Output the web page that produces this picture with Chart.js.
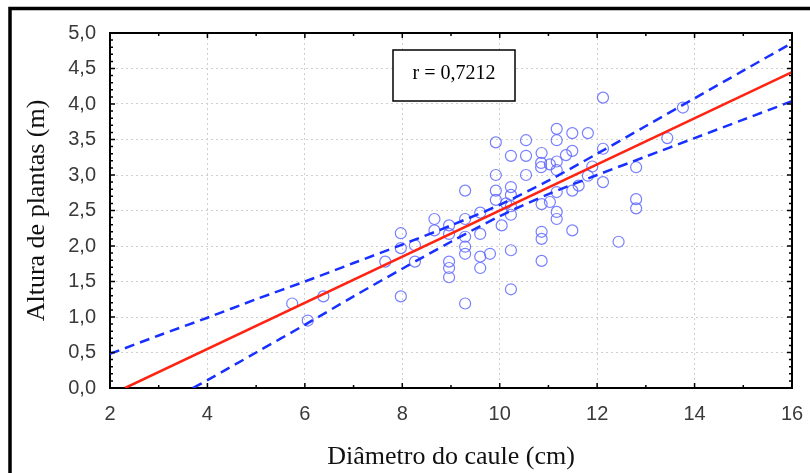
<!DOCTYPE html>
<html>
<head>
<meta charset="utf-8">
<script src="https://cdn.jsdelivr.net/npm/chart.js@4.4.0/dist/chart.umd.min.js"></script>
<style>
  html, body { margin:0; padding:0; background:#fff; }
  #wrap { width:810px; height:473px; position:relative; }
</style>
</head>
<body>
<div id="wrap"><canvas id="chart" width="810" height="473"></canvas></div>
<script>
// data
const diametro = [5.74, 6.06, 6.38, 7.65, 7.97, 7.97, 7.97, 8.26, 8.26, 8.66,
  8.66, 8.96, 8.96, 8.96, 8.96, 8.96, 9.29, 9.29, 9.29, 9.29,
  9.29, 9.29, 9.60, 9.60, 9.60, 9.60, 9.80, 9.92, 9.92, 9.92,
  9.92, 10.04, 10.13, 10.23, 10.23, 10.23, 10.23, 10.23, 10.23, 10.23,
  10.54, 10.54, 10.54, 10.86, 10.85, 10.85, 10.86, 10.86, 10.86, 10.86,
  11.03, 11.03, 11.17, 11.17, 11.17, 11.17, 11.17, 11.17, 11.17, 11.36,
  11.49, 11.49, 11.49, 11.49, 11.62, 11.81, 11.81, 11.90, 12.12, 12.12,
  12.12, 12.44, 12.80, 12.80, 12.80, 13.44, 13.76];
const altura = [1.19, 0.95, 1.29, 1.78, 2.18, 1.97, 1.29, 2.01, 1.78, 2.38,
  2.22, 2.29, 2.17, 1.78, 1.69, 1.56, 2.78, 2.38, 2.13, 1.99,
  1.89, 1.19, 2.47, 2.17, 1.85, 1.69, 1.89, 3.46, 3.00, 2.78,
  2.65, 2.29, 2.60, 3.27, 2.83, 2.72, 2.56, 2.44, 1.94, 1.39,
  3.49, 3.27, 3.00, 3.31, 3.17, 3.11, 2.59, 2.20, 2.10, 1.79,
  3.15, 2.62, 3.65, 3.49, 3.19, 3.07, 2.76, 2.48, 2.38, 3.28,
  3.59, 3.34, 2.78, 2.22, 2.85, 3.59, 2.99, 3.12, 4.09, 3.37,
  2.90, 2.06, 3.11, 2.66, 2.53, 3.52, 3.95];

// fitted line (red)
const fitX = [2.31, 16];
const fitY = [0, 4.45];

// 95% band (blue dashed)
const bandX  = [2, 3, 4, 5, 6, 7, 8, 9, 10, 11, 12, 13, 14, 15, 16];
const upperY = [0.48, 0.74, 0.99, 1.25, 1.50, 1.76, 2.02, 2.29, 2.58, 2.92, 3.30, 3.69, 4.08, 4.47, 4.86];
const lowerX = [3.7, 4, 5, 6, 7, 8, 9, 10, 11, 12, 13, 14, 15, 16];
const lowerY = [0.0, 0.11, 0.50, 0.89, 1.29, 1.68, 2.06, 2.42, 2.73, 3.00, 3.26, 3.52, 3.78, 4.04];

const xTicks = [2, 4, 6, 8, 10, 12, 14, 16];
const yMin = 0, yMax = 5;

const toPts = (xs, ys) => xs.map((x, i) => ({ x: x, y: ys[i] }));

// frame, box, top/right axis lines, small ticks, annotation
const extras = {
  id: 'extras',
  afterDraw(chart) {
    const { ctx, chartArea: a, scales: { x, y } } = chart;
    ctx.save();
    ctx.strokeStyle = '#000';
    // outer frame (left + top)
    ctx.lineWidth = 3.5;
    ctx.beginPath();
    ctx.moveTo(10, 473); ctx.lineTo(10, 8.5); ctx.lineTo(810, 8.5);
    ctx.stroke();
    // top and right edge of the plot box
    ctx.lineWidth = 2;
    ctx.beginPath();
    ctx.moveTo(a.left, a.top); ctx.lineTo(a.right, a.top); ctx.lineTo(a.right, a.bottom);
    ctx.stroke();
    // inward ticks
    ctx.lineWidth = 1.5;
    ctx.beginPath();
    for (let v = 2; v <= 16; v++) {
      const px = x.getPixelForValue(v);
      const len = v % 2 === 0 ? 5 : 3;
      ctx.moveTo(px, a.bottom); ctx.lineTo(px, a.bottom - len);
      ctx.moveTo(px, a.top); ctx.lineTo(px, a.top + len);
    }
    for (let i = 0; i <= 50; i++) {
      const py = y.getPixelForValue(i / 10);
      const len = i % 5 === 0 ? 5 : 3;
      ctx.moveTo(a.left, py); ctx.lineTo(a.left + len, py);
      ctx.moveTo(a.right, py); ctx.lineTo(a.right - len, py);
    }
    ctx.stroke();
    // r box
    ctx.fillStyle = '#fff';
    ctx.fillRect(393, 50, 122, 51);
    ctx.lineWidth = 1.5;
    ctx.strokeRect(393, 50, 122, 51);
    ctx.fillStyle = '#000';
    ctx.font = '20px "Liberation Serif", "Times New Roman", serif';
    ctx.textAlign = 'center';
    ctx.textBaseline = 'middle';
    ctx.fillText('r = 0,7212', 454, 74);
    ctx.restore();
  }
};

new Chart(document.getElementById('chart'), {
  data: {
    datasets: [
      { type: 'line', label: 'ajuste', data: toPts(fitX, fitY), borderColor: '#ff2412',
        borderWidth: 2.5, pointRadius: 0, fill: false, order: 0 },
      { type: 'line', label: 'sup', data: toPts(bandX, upperY), borderColor: '#1830ff',
        borderWidth: 2.5, borderDash: [10, 6], pointRadius: 0, fill: false, tension: 0.3, order: 0 },
      { type: 'line', label: 'inf', data: toPts(lowerX, lowerY), borderColor: '#1830ff',
        borderWidth: 2.5, borderDash: [10, 6], pointRadius: 0, fill: false, tension: 0.3, order: 0 },
      { type: 'scatter', label: 'dados', data: toPts(diametro, altura),
        borderColor: 'rgba(95,105,255,0.85)', backgroundColor: 'rgba(0,0,0,0)',
        borderWidth: 1.2, pointRadius: 5.5, order: 1 }
    ]
  },
  options: {
    responsive: false,
    animation: false,
    layout: { padding: { left: 14, top: 33, right: 18, bottom: 0 } },
    plugins: { legend: { display: false }, tooltip: { enabled: false } },
    scales: {
      x: {
        type: 'linear', min: 2, max: 16,
        afterBuildTicks: s => { s.ticks = xTicks.map(v => ({ value: v })); },
        afterFit: s => { s.height = 85; s.paddingLeft = 0; s.paddingRight = 0; },
        ticks: { color: '#3a3a3a', padding: 14, font: { family: '"Liberation Sans", Arial, sans-serif', size: 20 } },
        grid: { color: '#cfcfcf', lineWidth: 1, drawTicks: false },
        border: { color: '#000', width: 2, dash: [2, 3] },
        title: { display: true, text: 'Diâmetro do caule (cm)', color: '#111',
          padding: 0, font: { family: '"Liberation Serif", "Times New Roman", serif', size: 26 } }
      },
      y: {
        type: 'linear', min: yMin, max: yMax,
        ticks: { stepSize: 0.5, color: '#3a3a3a', padding: 14,
          font: { family: '"Liberation Sans", Arial, sans-serif', size: 20 },
          callback: v => v.toFixed(1).replace('.', ',') },
        afterFit: s => { s.width = 96; s.paddingTop = 0; s.paddingBottom = 0; },
        grid: { color: '#cfcfcf', lineWidth: 1, drawTicks: false },
        border: { color: '#000', width: 2, dash: [2, 3] },
        title: { display: true, text: 'Altura de plantas (m)', color: '#111',
          padding: { top: 8, bottom: 0 }, font: { family: '"Liberation Serif", "Times New Roman", serif', size: 26 } }
      }
    }
  },
  plugins: [extras]
});
</script>
</body>
</html>
